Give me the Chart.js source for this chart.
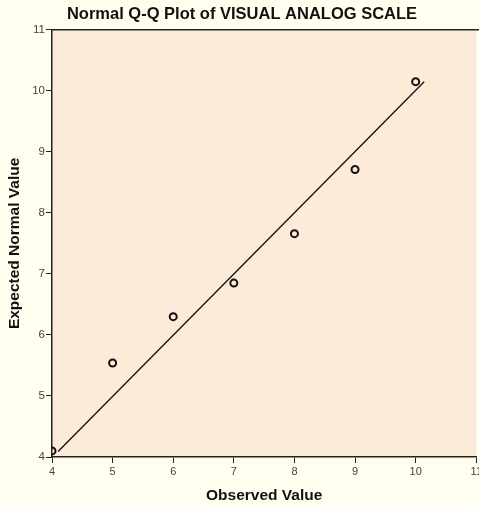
<!DOCTYPE html>
<html>
<head>
<meta charset="utf-8">
<script src="https://cdn.jsdelivr.net/npm/chart.js@4"></script>
<style>
  html, body { margin: 0; padding: 0; background: #fffeef; overflow: hidden; }
  #wrap { width: 484px; height: 506px; }
</style>
</head>
<body>
<div id="wrap"><canvas id="qqChart" width="484" height="506"></canvas></div>
<script>
// Observed values and expected normal values
const observed = [4, 5, 6, 7, 8, 9, 10];
const expected = [4.10, 5.54, 6.30, 6.85, 7.66, 8.71, 10.15];
// Reference line (y = x)
const lineX = [4.10, 10.14];
const lineY = [4.09, 10.15];
const xTicks = [4, 5, 6, 7, 8, 9, 10, 11];
const yTicks = [4, 5, 6, 7, 8, 9, 10, 11];

// Fond de la zone du graphique + bordure du haut
const plotBg = {
    id: "plotBg",
    beforeDraw(chart) {
        const { ctx, chartArea: a } = chart;
        ctx.save();
        ctx.fillStyle = "#fcebd9";
        ctx.fillRect(a.left, a.top, a.right - a.left, a.bottom - a.top);
        ctx.strokeStyle = "#222";
        ctx.lineWidth = 1.5;
        ctx.beginPath();
        ctx.moveTo(a.left, a.top);
        ctx.lineTo(a.right + 5, a.top);
        ctx.stroke();
        ctx.restore();
    },
};

const ctx = document.getElementById("qqChart").getContext("2d");
new Chart(ctx, {
    type: "scatter",
    data: {
        datasets: [
            {
                data: observed.map((x, i) => ({ x: x, y: expected[i] })),
                pointStyle: "circle",
                pointRadius: 3.5,
                pointBorderWidth: 2,
                pointBorderColor: "#111",
                pointBackgroundColor: "rgba(0,0,0,0)",
            },
            {
                type: "line",
                data: lineX.map((x, i) => ({ x: x, y: lineY[i] })),
                borderColor: "#111",
                borderWidth: 1.3,
                pointRadius: 0,
                fill: false,
            },
        ],
    },
    options: {
        responsive: false,
        animation: false,
        layout: { padding: 0 },
        plugins: {
            legend: { display: false },
            tooltip: { enabled: false },
            title: {
                display: true,
                text: "Normal Q-Q Plot of VISUAL ANALOG SCALE",
                color: "#111",
                font: { family: "Liberation Sans, Arial", size: 16.5, weight: "bold" },
                padding: { top: 5, bottom: 5 },
            },
        },
        scales: {
            x: {
                type: "linear",
                min: 4,
                max: 11,
                afterBuildTicks: (s) => { s.ticks = xTicks.map((v) => ({ value: v })); },
                afterFit: (s) => { s.height = 49; },
                border: { color: "#222", width: 1.5 },
                grid: { drawOnChartArea: false, tickLength: 6, tickColor: "#222", tickWidth: 1 },
                ticks: {
                    color: "#444",
                    padding: 2,
                    font: { family: "Liberation Sans, Arial", size: 11 },
                    maxRotation: 0,
                },
                title: {
                    display: true,
                    text: "Observed Value",
                    color: "#111",
                    font: { family: "Liberation Sans, Arial", size: 15.5, weight: "bold" },
                    padding: { top: 0, bottom: 1 },
                },
            },
            y: {
                type: "linear",
                min: 4,
                max: 11,
                afterBuildTicks: (s) => { s.ticks = yTicks.map((v) => ({ value: v })); },
                afterFit: (s) => { s.width = 52; },
                border: { color: "#222", width: 1.5 },
                grid: { drawOnChartArea: false, tickLength: 6, tickColor: "#222", tickWidth: 1 },
                ticks: {
                    color: "#444",
                    padding: 1,
                    font: { family: "Liberation Sans, Arial", size: 11.5 },
                },
                title: {
                    display: true,
                    text: "Expected Normal Value",
                    color: "#111",
                    font: { family: "Liberation Sans, Arial", size: 15.5, weight: "bold" },
                    padding: { top: 5, bottom: 0 },
                },
            },
        },
    },
    plugins: [plotBg],
});
</script>
</body>
</html>
